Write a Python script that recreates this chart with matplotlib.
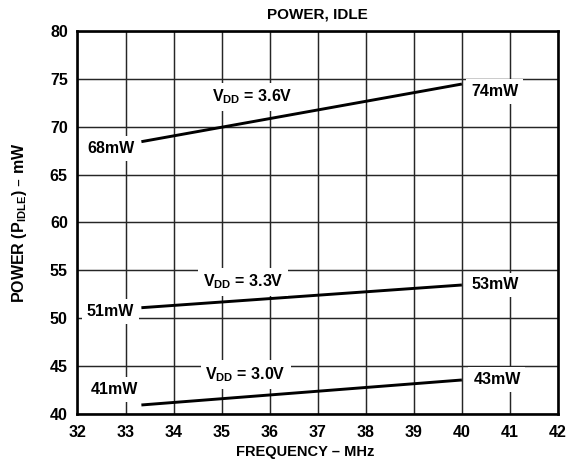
import matplotlib
matplotlib.use("Agg")
import matplotlib.pyplot as plt

plt.rcParams['font.family'] = ['Liberation Sans', 'DejaVu Sans']
plt.rcParams['font.weight'] = 'bold'

freq = [33.33, 40.0]
p36 = [68.44, 74.46]
p33 = [51.10, 53.47]
p30 = [40.94, 43.55]

xticks = list(range(32, 43))
yticks = list(range(40, 81, 5))

fig = plt.figure(figsize=(5.8, 4.61), dpi=100)
ax = fig.add_axes([0.1336, 0.1020, 0.8284, 0.8308])
ax.set_xlim(32, 42)
ax.set_ylim(40, 80)
ax.set_xticks(xticks)
ax.set_yticks(yticks)
ax.grid(True, color='#262626', linewidth=1.05, zorder=0)
ax.set_axisbelow(True)
for s in ax.spines.values():
    s.set_linewidth(1.9)
ax.tick_params(axis='y', length=0, labelsize=11.5, pad=7)
ax.tick_params(axis='x', length=0, labelsize=11.5, pad=8)
for lab in ax.get_xticklabels() + ax.get_yticklabels():
    lab.set_fontweight('bold')

for y in (p36, p33, p30):
    ax.plot(freq, y, color='black', linewidth=2.1, zorder=3, solid_capstyle='butt')

box = dict(facecolor='white', edgecolor='none', pad=3.5)
labels = [
    (35.64, 72.62, r'V$_\mathregular{DD}$ = 3.6V'),
    (40.68, 73.21, '74mW'),
    (32.69, 67.23, '68mW'),
    (35.44, 53.30, r'V$_\mathregular{DD}$ = 3.3V'),
    (40.69, 53.02, '53mW'),
    (32.69, 50.24, '51mW'),
    (35.50, 43.65, r'V$_\mathregular{DD}$ = 3.0V'),
    (40.73, 43.13, '43mW'),
    (32.76, 42.06, '41mW'),
]
for x, y, t in labels:
    ax.text(x, y, t, ha='center', va='baseline', fontsize=11.5, fontweight='bold',
            bbox=box, zorder=4)

ax.set_title('POWER, IDLE', fontsize=11, fontweight='bold', pad=9)
ax.set_xlabel('FREQUENCY – MHz', fontsize=10.5, fontweight='bold')
ax.xaxis.set_label_coords(0.4745, -0.081)
ax.xaxis.label.set_verticalalignment('top')
ax.set_ylabel(r'POWER (P$_\mathregular{IDLE}$) – mW', fontsize=11.5, fontweight='bold')
ax.yaxis.set_label_coords(-0.100, 0.5)

fig.savefig('out.png', dpi=100)
